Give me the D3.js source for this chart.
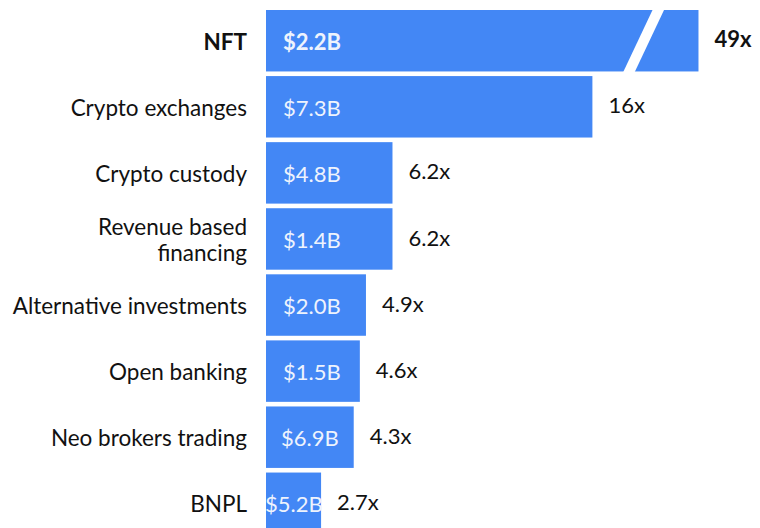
<!DOCTYPE html>
<html>
<head>
<meta charset="utf-8">
<script src="https://cdn.jsdelivr.net/npm/d3@7"></script>
<style>
  body { margin: 0; background: #fff; }
  text { font-family: "Source Sans Pro", Lato, "Noto Sans", sans-serif; }
</style>
</head>
<body>
<div id="chart"></div>
<script>
const categories = ["NFT", "Crypto exchanges", "Crypto custody", "Revenue based\nfinancing",
    "Alternative investments", "Open banking", "Neo brokers trading", "BNPL"]
const funding = ["$2.2B", "$7.3B", "$4.8B", "$1.4B", "$2.0B", "$1.5B", "$6.9B", "$5.2B"]
const multiples = [49, 16, 6.2, 6.2, 4.9, 4.6, 4.3, 2.7]
const multipleLabels = ["49x", "16x", "6.2x", "6.2x", "4.9x", "4.6x", "4.3x", "2.7x"]
// the NFT bar is broken, drawn at this length instead of 49
const breakAt = 21.2

const width = 760, height = 528
const left = 266

const svg = d3.select("#chart").append("svg")
    .attr("width", width)
    .attr("height", height)

const x = d3.scaleLinear()
    .domain([0, 1])
    .range([left, left + 20.4])

const y = d3.scaleBand()
    .domain(categories)
    .range([10, 534])
    .paddingInner(0.07)
    .paddingOuter(0)

const shown = d => Math.min(d, breakAt)

const rows = svg.selectAll("g.row")
    .data(categories.map((c, i) => ({cat: c, money: funding[i], mult: multiples[i], label: multipleLabels[i], i: i})))
    .join("g")
    .attr("class", "row")

rows.append("rect")
    .attr("x", x(0))
    .attr("y", d => y(d.cat))
    .attr("width", d => x(shown(d.mult)) - x(0))
    .attr("height", y.bandwidth())
    .attr("fill", "#4387f5")

// break mark on the first bar
const nft = categories[0]
const bx = x(17.5)
svg.append("path")
    .attr("d", `M${bx + 30},${y(nft) - 1} L${bx + 41.5},${y(nft) - 1} L${bx + 11.5},${y(nft) + y.bandwidth() + 1} L${bx},${y(nft) + y.bandwidth() + 1} Z`)
    .attr("fill", "#fff")

// category labels
rows.append("text")
    .attr("text-anchor", "end")
    .attr("font-size", 22.5)
    .attr("font-weight", d => d.i === 0 ? 700 : 400)
    .attr("fill", "#111")
    .each(function (d) {
        const lines = d.cat.split("\n")
        const cy = y(d.cat) + y.bandwidth() / 2
        lines.forEach((l, k) => {
            d3.select(this).append("tspan")
                .attr("x", 247)
                .attr("y", cy + (k - (lines.length - 1) / 2) * 26)
                .attr("dy", "0.4em")
                .text(l)
        })
    })

// funding inside the bars
rows.append("text")
    .attr("font-size", 22)
    .attr("font-weight", d => d.i === 0 ? 700 : 400)
    .attr("fill", "#eef3fd")
    .attr("y", d => y(d.cat) + y.bandwidth() / 2)
    .attr("dy", "0.4em")
    .text(d => d.money)
    .attr("x", function (d) {
        const w = x(shown(d.mult)) - x(0)
        const tw = this.getComputedTextLength()
        return x(0) + Math.min(17, Math.max(-1, (w - tw) / 2))
    })

// multiples right of the bars
rows.append("text")
    .attr("font-size", 22)
    .attr("font-weight", d => d.i === 0 ? 700 : 400)
    .attr("fill", "#111")
    .attr("x", d => x(shown(d.mult)) + 16)
    .attr("y", d => y(d.cat) + y.bandwidth() / 2)
    .attr("dy", "0.3em")
    .text(d => d.label)
</script>
</body>
</html>
